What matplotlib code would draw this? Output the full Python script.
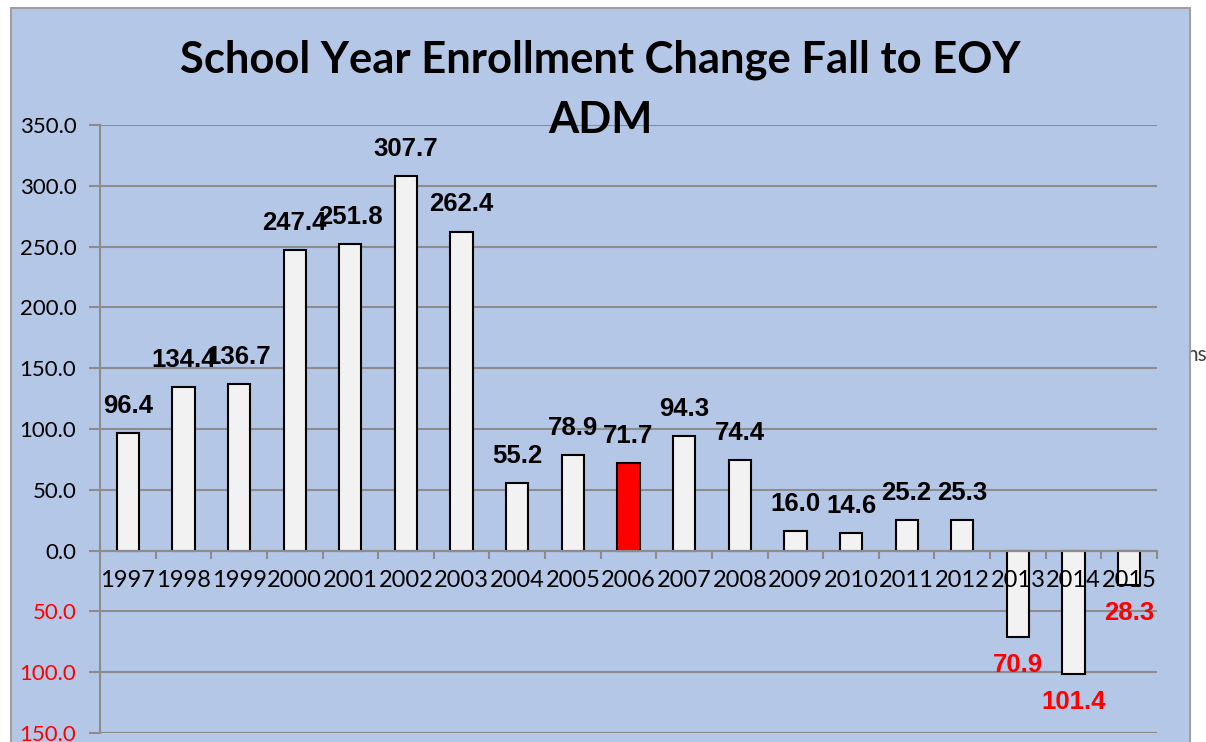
import matplotlib.pyplot as plt
from matplotlib.patches import Rectangle
from matplotlib.ticker import FuncFormatter
import numpy as np

plt.rcParams["font.family"] = ["Lato", "DejaVu Sans"]

# enrollment change values, fall to end of year ADM
years = ["1997", "1998", "1999", "2000", "2001", "2002", "2003", "2004", "2005", "2006",
         "2007", "2008", "2009", "2010", "2011", "2012", "2013", "2014", "2015"]
changes = [96.4, 134.4, 136.7, 247.4, 251.8, 307.7, 262.4, 55.2, 78.9, 71.7,
           94.3, 74.4, 16.0, 14.6, 25.2, 25.3, -70.9, -101.4, -28.3]
highlight = "2006"
yticks = [-150, -100, -50, 0, 50, 100, 150, 200, 250, 300, 350]

bg = "#B4C7E7"
grid_col = "#8C8C8C"

fig = plt.figure(figsize=(12.06, 7.42), dpi=100)

# stray text peeking out at the right edge
fig.text(1207 / 1206, 1 - 355 / 742, "ns", ha="right", va="center",
         fontsize=15, color="#404040", zorder=-3)

# blue chart area box
fig.patches.append(Rectangle((11 / 1206, -0.05), (1190 - 11) / 1206, (742 - 8) / 742 + 0.05,
                             transform=fig.transFigure, facecolor=bg, edgecolor="#A0A0A0",
                             lw=1.5, zorder=-2))

ax = fig.add_axes([100 / 1206, 1 - 733 / 742, 1057 / 1206, 608 / 742])
ax.set_facecolor("none")
ax.set_axisbelow(False)

x = np.arange(len(years))
colors = ["#FF0000" if y == highlight else "#F2F2F2" for y in years]
ax.bar(x, changes, width=0.4, color=colors, edgecolor="black", lw=1.5, zorder=2)

# horizontal gridlines behind the bars
for t in yticks:
    ax.axhline(t, color=grid_col, lw=1.5, zorder=0)

ax.set_xlim(-0.5, len(years) - 0.5)
ax.set_ylim(-150, 350)
ax.set_yticks(yticks)
ax.yaxis.set_major_formatter(FuncFormatter(lambda v, p: f"{abs(v):.1f}"))
ax.tick_params(axis="y", length=8, width=1.5, color=grid_col, labelsize=16, pad=9)
for lab, v in zip(ax.get_yticklabels(), yticks):
    lab.set_color("red" if v < 0 else "black")

ax.set_xticks(x)
ax.set_xticklabels(years)
ax.set_xticks(np.arange(len(years) + 1) - 0.5, minor=True)
ax.tick_params(axis="x", which="major", length=0, pad=14, labelsize=17)
ax.tick_params(axis="x", which="minor", length=6, width=1.5, color=grid_col)

for s in ["top", "right"]:
    ax.spines[s].set_visible(False)
ax.spines["bottom"].set_position(("data", 0))
ax.spines["bottom"].set_color(grid_col)
ax.spines["bottom"].set_linewidth(1.5)
ax.spines["left"].set_color(grid_col)
ax.spines["left"].set_linewidth(1.5)

# data labels
for xi, v in zip(x, changes):
    if v >= 0:
        ax.annotate(f"{v:.1f}", (xi, v), xytext=(0, 19.5), textcoords="offset points",
                    ha="center", va="center", fontsize=18.5, fontweight="bold",
                    family="Liberation Sans", color="black", zorder=5)
    else:
        ax.annotate(f"{abs(v):.1f}", (xi, v), xytext=(0, -20), textcoords="offset points",
                    ha="center", va="center", fontsize=18.5, fontweight="bold",
                    family="Liberation Sans", color="red", zorder=5)

fig.text(600 / 1206, 1 - 60 / 742, "School Year Enrollment Change Fall to EOY",
         ha="center", va="center", fontsize=31.3, fontweight="bold")
fig.text(600 / 1206, 1 - 120 / 742, "ADM", ha="center", va="center",
         fontsize=31.3, fontweight="bold", zorder=5)

fig.savefig("out.png", dpi=100)
